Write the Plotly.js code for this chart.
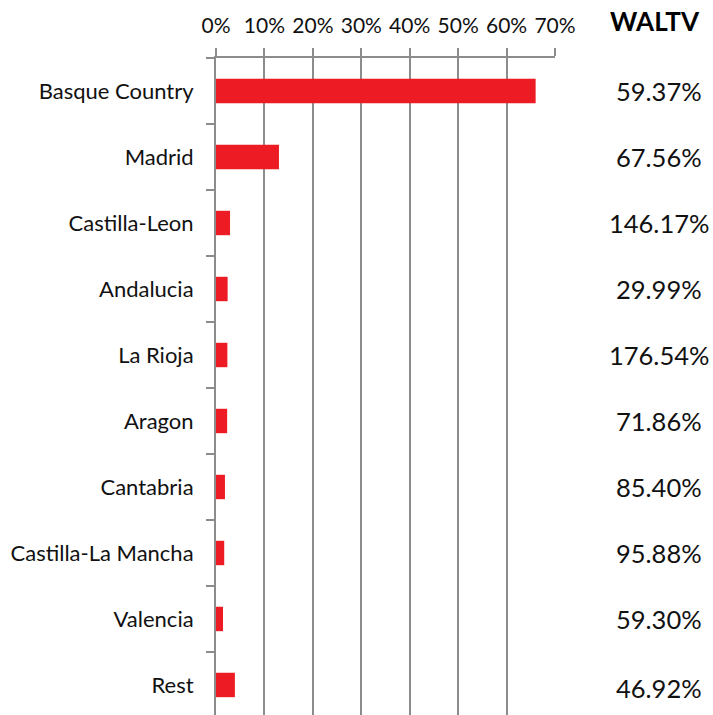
<!DOCTYPE html>
<html>
<head>
<meta charset="utf-8">
<script src="https://cdn.plot.ly/plotly-3.0.1.min.js"></script>
<style>html,body{margin:0;padding:0;background:#fff;}#chart{width:713px;height:715px;}</style>
</head>
<body>
<div id="chart"></div>
<script>
const regions = ["Basque Country","Madrid","Castilla-Leon","Andalucia","La Rioja","Aragon","Cantabria","Castilla-La Mancha","Valencia","Rest"];
const shares = [66.0, 13.0, 2.9, 2.4, 2.35, 2.3, 1.85, 1.7, 1.45, 3.9];
const waltv = ["59.37%","67.56%","146.17%","29.99%","176.54%","71.86%","85.40%","95.88%","59.30%","46.92%"];
const xTicks = [0,10,20,30,40,50,60,70];
const xTickText = ["0%","10%","20%","30%","40%","50%","60%","70%"];

const FONT = "Lato, 'Open Sans', sans-serif";
const gray = "#8c8c8c";

const trace = {
  type: "bar",
  orientation: "h",
  y: regions,
  x: shares,
  width: 0.37,
  marker: {color: "#ed1c24", line: {width: 0}},
  hoverinfo: "none"
};

const annotations = regions.map((r, i) => ({
  xref: "paper", yref: "y", x: 1.307, y: r, yshift: i === regions.length - 1 ? -3 : 0,
  text: waltv[i], showarrow: false, xanchor: "center",
  font: {family: FONT, size: 25.5, color: "#111"}
}));
annotations.push({
  xref: "paper", yref: "paper", x: 1.295, y: 1, yshift: 19, yanchor: "bottom",
  text: "<b>WALTV</b>", showarrow: false, xanchor: "center",
  font: {family: FONT, size: 26, color: "#000"}
});

const layout = {
  width: 713, height: 715,
  margin: {l: 216, r: 158, t: 58, b: 0, pad: 0},
  paper_bgcolor: "#fff", plot_bgcolor: "#fff",
  showlegend: false,
  bargap: 0.63,
  xaxis: {
    side: "top",
    range: [0, 70],
    tickvals: xTicks,
    ticktext: xTickText,
    showgrid: true, gridcolor: gray, gridwidth: 2,
    zeroline: false,
    showline: true, linecolor: gray, linewidth: 2, mirror: false,
    ticks: "outside", ticklen: 8, tickwidth: 2, tickcolor: gray,
    ticklabelstandoff: 7,
    tickfont: {family: FONT, size: 21, color: "#111"},
    fixedrange: true
  },
  yaxis: {
    type: "category",
    range: [9.455, -0.5],
    tickson: "boundaries",
    ticks: "outside", ticklen: 8, tickwidth: 2, tickcolor: gray,
    showline: true, linecolor: gray, linewidth: 2,
    showgrid: false, zeroline: false,
    ticklabelstandoff: 16,
    tickfont: {family: FONT, size: 22, color: "#111"},
    fixedrange: true
  },
  annotations: annotations
};

Plotly.newPlot("chart", [trace], layout, {displayModeBar: false, staticPlot: true});
</script>
</body>
</html>
